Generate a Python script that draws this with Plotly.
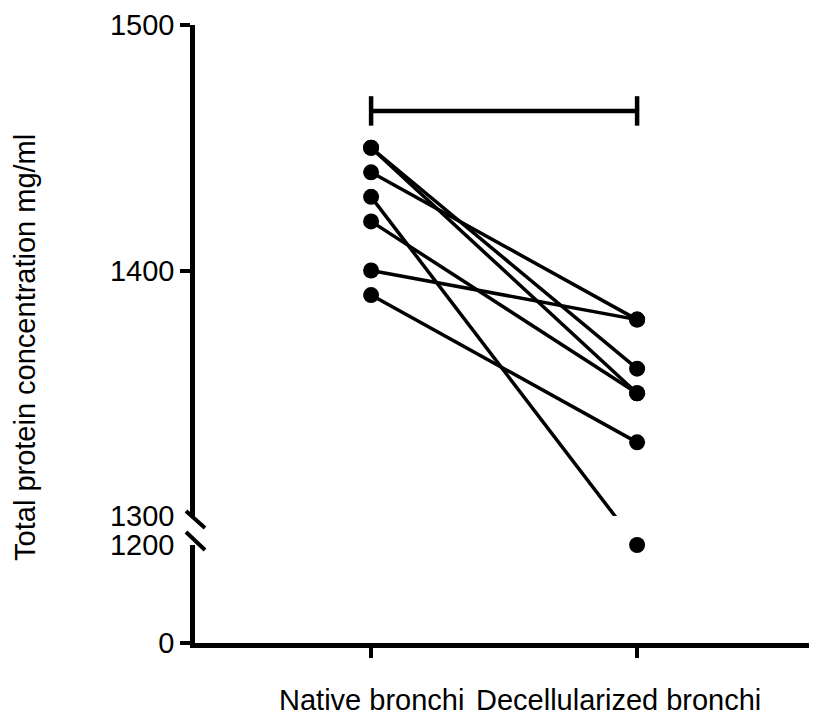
import plotly.graph_objects as go

# ---- data ----
categories = ["Native bronchi", "Decellularized bronchi"]
native = [1450, 1450, 1440, 1430, 1420, 1400, 1390]
decell = [1360, 1350, 1380, 1200, 1350, 1380, 1330]
upper_ticks = [1300, 1400, 1500]
lower_ticks = [0, 1200]
y_title = "Total protein concentration mg/ml"

# ---- broken-axis geometry ----
upper_range = [1300, 1500]
lower_range = [0, 1200]
plot_h = 618
d_lo = (643 - 516) / plot_h      # bottom of upper segment
d_hi = (643 - 545) / plot_h      # top of lower segment
xs = [1, 2]


def to_upper(v):
    """Map a value onto the upper axis' units following the drawn (broken) scale."""
    if v >= upper_range[0]:
        return v
    frac = (v - lower_range[0]) / (lower_range[1] - lower_range[0]) * d_hi
    return upper_range[0] + (frac - d_lo) / (1 - d_lo) * (upper_range[1] - upper_range[0])


fig = go.Figure()
FONT = "Liberation Sans, Arial, sans-serif"

# connecting lines
for a, b in zip(native, decell):
    fig.add_trace(go.Scatter(x=xs, y=[a, to_upper(b)], mode="lines",
                             line=dict(color="black", width=3.5),
                             xaxis="x", yaxis="y", hoverinfo="skip"))

# markers
mk = dict(color="black", size=16)
fig.add_trace(go.Scatter(x=[xs[0]] * len(native), y=native, mode="markers",
                         marker=mk, xaxis="x", yaxis="y", cliponaxis=False))
up_d = [v for v in decell if v >= upper_range[0]]
lo_d = [v for v in decell if v < upper_range[0]]
fig.add_trace(go.Scatter(x=[xs[1]] * len(up_d), y=up_d, mode="markers",
                         marker=mk, xaxis="x", yaxis="y", cliponaxis=False))
fig.add_trace(go.Scatter(x=[xs[1]] * len(lo_d), y=lo_d, mode="markers",
                         marker=mk, xaxis="x", yaxis="y2", cliponaxis=False))

# significance bracket
bracket_y = 1465
cap = 6
lw = 4.5
fig.add_shape(type="line", xref="x", yref="y", x0=xs[0], x1=xs[1],
              y0=bracket_y, y1=bracket_y, line=dict(color="black", width=lw))
for xv in xs:
    fig.add_shape(type="line", xref="x", yref="y", x0=xv, x1=xv,
                  y0=bracket_y - cap, y1=bracket_y + cap,
                  line=dict(color="black", width=lw))

# break marks (paper-anchored so they are not clipped)
fig.add_shape(type="line", xref="paper", yref="paper", xsizemode="pixel", xanchor=0,
              ysizemode="pixel", yanchor=d_lo,
              x0=-9, x1=10, y0=5, y1=-12, line=dict(color="black", width=4))
fig.add_shape(type="line", xref="paper", yref="paper", xsizemode="pixel", xanchor=0,
              ysizemode="pixel", yanchor=d_hi,
              x0=-9, x1=10, y0=13, y1=-5, line=dict(color="black", width=4))

tickfont = dict(family=FONT, size=29, color="black")
fig.update_layout(
    width=809, height=709,
    margin=dict(l=187, r=7, t=17, b=74),
    paper_bgcolor="white", plot_bgcolor="white",
    showlegend=False,
    xaxis=dict(domain=[0, 1], range=[0.338, 2.650], anchor="y2", automargin=False,
               showline=True, linecolor="black", linewidth=4.5,
               tickvals=xs, ticks="outside", ticklen=10, tickwidth=4,
               tickcolor="black", showticklabels=False,
               showgrid=False, zeroline=False),
    yaxis=dict(domain=[d_lo, 1], range=upper_range, anchor="x", automargin=False,
               showline=True, linecolor="black", linewidth=4.5,
               tickvals=upper_ticks, ticks="outside", ticklen=10, tickwidth=4,
               tickcolor="rgba(0,0,0,0)", tickfont=tickfont,
               minor=dict(tickvals=[1400, 1500], ticks="outside", ticklen=10,
                          tickwidth=4, tickcolor="black", showgrid=False),
               showgrid=False, zeroline=False),
    yaxis2=dict(domain=[0, d_hi], range=lower_range, anchor="x", automargin=False,
                showline=True, linecolor="black", linewidth=4.5,
                tickvals=lower_ticks, ticks="outside", ticklen=10, tickwidth=4,
                tickcolor="rgba(0,0,0,0)", tickfont=tickfont,
                minor=dict(tickvals=[0], ticks="outside", ticklen=10,
                           tickwidth=4, tickcolor="black", showgrid=False),
                showgrid=False, zeroline=False),
)

# category labels
shifts = [0, -19]
for xv, name, sh in zip(xs, categories, shifts):
    fig.add_annotation(x=xv, y=-0.0922, xref="x", yref="paper", text=name,
                       showarrow=False, xanchor="center", yanchor="middle",
                       xshift=sh, font=dict(family=FONT, size=29, color="black"))

# y-axis title
fig.add_annotation(x=-0.2765, y=0.479, xref="paper", yref="paper", text=y_title,
                   textangle=-90, showarrow=False, xanchor="center", yanchor="middle",
                   font=dict(family=FONT, size=29, color="black"))

fig.write_html("out.html")
